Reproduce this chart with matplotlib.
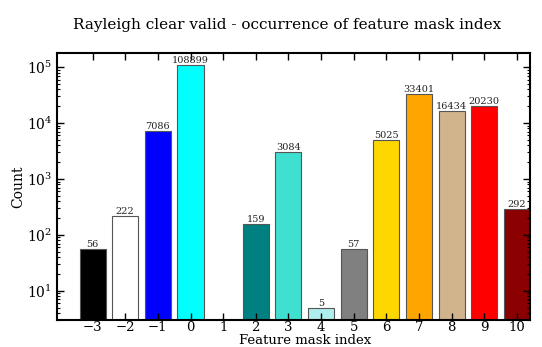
import matplotlib
matplotlib.use("Agg")
import matplotlib.pyplot as plt
import numpy as np

indices = [-3, -2, -1, 0, 1, 2, 3, 4, 5, 6, 7, 8, 9, 10]
counts = [56, 222, 7086, 108899, 0, 159, 3084, 5, 57, 5025, 33401, 16434, 20230, 292]
colors = ['black', 'white', 'blue', 'cyan', 'purple', 'teal', 'turquoise',
          'paleturquoise', 'grey', 'gold', 'orange', 'tan', 'red', 'darkred']

plt.rcParams['font.family'] = 'DejaVu Serif'
plt.rcParams['mathtext.fontset'] = 'dejavuserif'

fig = plt.figure(figsize=(5.42, 3.47), dpi=100)
ax = fig.add_axes([57/542, 1 - 320/347, (530-57)/542, (320-52.5)/347])

for i, c, col in zip(indices, counts, colors):
    if c > 0:
        ax.bar(i, c, width=0.8, color=col, edgecolor='#555555', linewidth=0.8)
        ax.text(i, c, str(c), ha='center', va='bottom', fontsize=7, color='#222222')

ax.set_yscale('log')
ax.set_ylim(3, 1.83e5)
ax.set_xlim(-4.09, 10.4)
ax.set_xticks(indices)
ax.set_xticklabels([str(i).replace('-', '\u2212') for i in indices])
ax.tick_params(which='both', direction='in', top=True, right=True, labelsize=10)
ax.tick_params(which='major', length=5, width=1)
ax.tick_params(which='minor', length=2.5, width=0.8)
ax.tick_params(axis='x', which='minor', top=False, bottom=False)
ax.tick_params(axis='x', pad=1, labelsize=9.5)
for s in ax.spines.values():
    s.set_linewidth(1.5)

fig.text(305/542, 3/347, 'Feature mask index', ha='center', va='baseline', fontsize=9.5)
ax.set_ylabel('Count', fontsize=10)
ax.yaxis.set_label_coords(-32/473, 0.5)
fig.text(287/542, 1 - 25/347, 'Rayleigh clear valid - occurrence of feature mask index',
         ha='center', va='center', fontsize=11)

fig.savefig('out.png', dpi=100)
